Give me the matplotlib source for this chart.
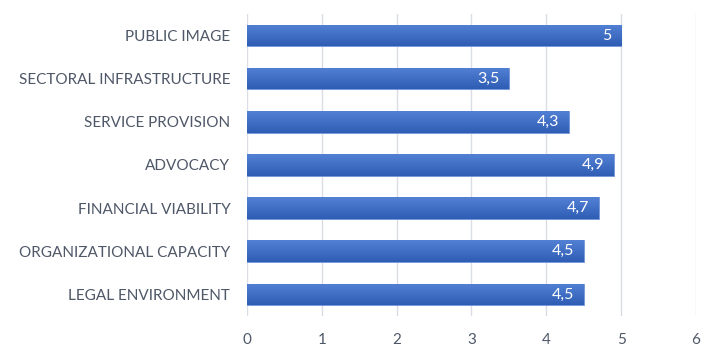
import matplotlib
matplotlib.use("Agg")
import matplotlib.pyplot as plt
from matplotlib.colors import LinearSegmentedColormap
import numpy as np

categories = ["LEGAL ENVIRONMENT", "ORGANIZATIONAL CAPACITY", "FINANCIAL VIABILITY",
              "ADVOCACY", "SERVICE PROVISION", "SECTORAL INFRASTRUCTURE", "PUBLIC IMAGE"]
scores = [4.5, 4.5, 4.7, 4.9, 4.3, 3.5, 5.0]
xticks = [0, 1, 2, 3, 4, 5, 6]

plt.rcParams['font.family'] = ['Lato', 'DejaVu Sans']
text_color = "#4f5868"

fig = plt.figure(figsize=(7.07, 3.56), dpi=100)
ax = fig.add_axes([0.3494, 0.1124, 0.635, 0.8483])

y = np.arange(len(categories))
bars = ax.barh(y, scores, height=0.5, color="#4472C4", edgecolor="#7396d8",
               linewidth=0.6, zorder=2)

# vertical gradient inside each bar, lighter on top
cmap = LinearSegmentedColormap.from_list("bar", ["#2f5db5", "#5281d4"])
grad = np.linspace(0, 1, 64).reshape(-1, 1)
for b in bars:
    x0, y0 = b.get_x(), b.get_y()
    w, h = b.get_width(), b.get_height()
    im = ax.imshow(grad, cmap=cmap, aspect="auto", origin="upper",
                   extent=[x0, x0 + w, y0 + h, y0], zorder=2.5)
    im.set_clip_path(b)

for yi, v in zip(y, scores):
    label = ("%g" % v).replace(".", ",")
    ax.annotate(label, xy=(v, yi), xytext=(-7, 0), textcoords="offset points",
                ha="right", va="center", color="white", fontsize=11.5, zorder=3)

ax.set_xlim(0, 6)
ax.set_ylim(-0.5, len(categories) - 0.5)
ax.set_xticks(xticks)
ax.set_xticklabels([str(t) for t in xticks])
ax.set_yticks(y)
ax.set_yticklabels(categories)
ax.grid(axis="x", color="#dadde6", linewidth=1, zorder=0)
for s in ax.spines.values():
    s.set_visible(False)
ax.tick_params(axis="both", length=0, labelsize=11, labelcolor=text_color)
ax.tick_params(axis="x", pad=12)
ax.tick_params(axis="y", pad=12)

fig.savefig("out.png", dpi=100)
